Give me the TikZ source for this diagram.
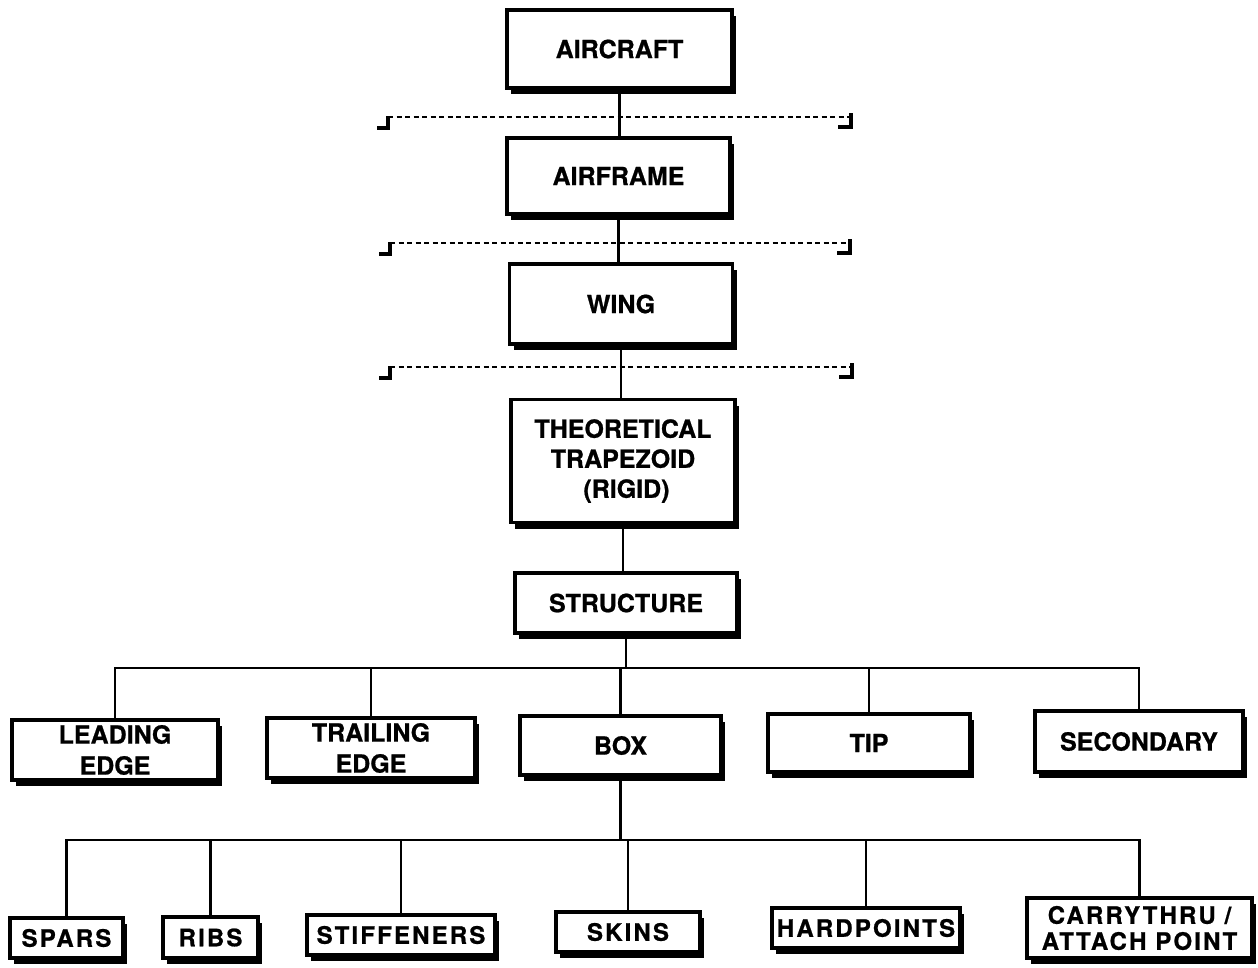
\documentclass[tikz,border=0pt]{standalone}
\usepackage{fontspec}
\newfontfamily\partfont{TeX Gyre Heros}[BoldFeatures={FakeBold=0.8}]
\newfontfamily\detailfont{TeX Gyre Heros}[LetterSpace=9, BoldFeatures={FakeBold=0.8}]
\usetikzlibrary{shadows}
\begin{document}
\begin{tikzpicture}[
        x=1pt, y=1pt,
        partbox/.style={draw=black, fill=white, line width=3.2pt, inner sep=0pt,
          align=center, font=\partfont\bfseries\fontsize{25}{30}\selectfont,
          drop shadow={shadow xshift=4pt, shadow yshift=-6pt, fill=black, opacity=1}},
        detailbox/.style={partbox, font=\detailfont\bfseries\fontsize{24}{26}\selectfont},
        link/.style={draw=black, line width=2.2pt},
        optline/.style={draw=black, line width=2pt, dash pattern=on 5pt off 3.5pt},
        optend/.style={draw=black, line width=3.4pt}
      ]
      \useasboundingbox (0,0) rectangle (1258,-967);
      % main chain
      \node[partbox, minimum width=225, minimum height=78] (aircraft) at (619.5,-49) {AIRCRAFT};
      \node[partbox, minimum width=223, minimum height=76] (airframe) at (618.5,-176) {AIRFRAME};
      \node[partbox, minimum width=223, minimum height=80] (wing) at (621,-304) {WING};
      \node[partbox, minimum width=224, minimum height=123] (theory) at (623,-461)
        {THEORETICAL\\TRAPEZOID\\\ (RIGID)};
      \node[partbox, minimum width=222, minimum height=60] (structure) at (626,-603) {STRUCTURE};
      % structure components
      \node[partbox, minimum width=206, minimum height=60, font=\partfont\bfseries\fontsize{25}{31}\selectfont]
        (leading) at (115,-750) {LEADING\\EDGE};
      \node[partbox, minimum width=208, minimum height=60, font=\partfont\bfseries\fontsize{25}{31}\selectfont]
        (trailing) at (371,-748) {TRAILING\\EDGE};
      \node[partbox, minimum width=201, minimum height=59] (box) at (620.5,-745.5) {BOX};
      \node[partbox, minimum width=202, minimum height=58] (tip) at (869,-743) {TIP};
      \node[partbox, minimum width=208, minimum height=61] (secondary) at (1139,-741.5) {SECONDARY};
      % box components
      \node[detailbox, minimum width=113, minimum height=40] (spars) at (66.5,-938) {SPARS};
      \node[detailbox, minimum width=95, minimum height=41] (ribs) at (210.5,-937.5) {RIBS};
      \node[detailbox, minimum width=188, minimum height=40] (stiffeners) at (401,-935) {STIFFENERS};
      \node[detailbox, minimum width=144, minimum height=40] (skins) at (628,-932) {SKINS};
      \node[detailbox, minimum width=188, minimum height=40] (hardpoints) at (866,-928) {HARDPOINTS};
      \node[detailbox, minimum width=225, minimum height=60] (carrythru) at (1139.5,-928)
        {CARRYTHRU /\\ATTACH POINT};
      % optional levels
      \foreach \y/\xl/\xr in {117/388/851, 243/390/850, 367/390/852}{
        \draw[optline] (\xl,-\y) -- (\xr,-\y);
        \draw[optend] (\xl,-\y+1) -- (\xl,-\y-11) -- (\xl-11,-\y-11);
        \draw[optend] (\xr,-\y+4) -- (\xr,-\y-10) -- (\xr-13,-\y-10);
      }
      \draw[link] (aircraft.south) -- (aircraft.south |- airframe.north);
      \draw[link] (airframe.south) -- (airframe.south |- wing.north);
      \draw[link] (wing.south) -- (wing.south |- theory.north);
      \draw[link] (theory.south) -- (theory.south |- structure.north);
      % structure bus
      \coordinate (busA) at ([yshift=-33pt]structure.south);
      \draw[link] (structure.south) -- (busA);
      \foreach \n in {leading, trailing, box, tip, secondary}
        \draw[link] (\n.north) |- (busA);
      % box bus
      \coordinate (busB) at ([yshift=-63pt]box.south);
      \draw[link] (box.south) -- (busB);
      \foreach \n in {spars, ribs, stiffeners, skins, hardpoints, carrythru}
        \draw[link] (\n.north) |- (busB);
    \end{tikzpicture}
\end{document}
